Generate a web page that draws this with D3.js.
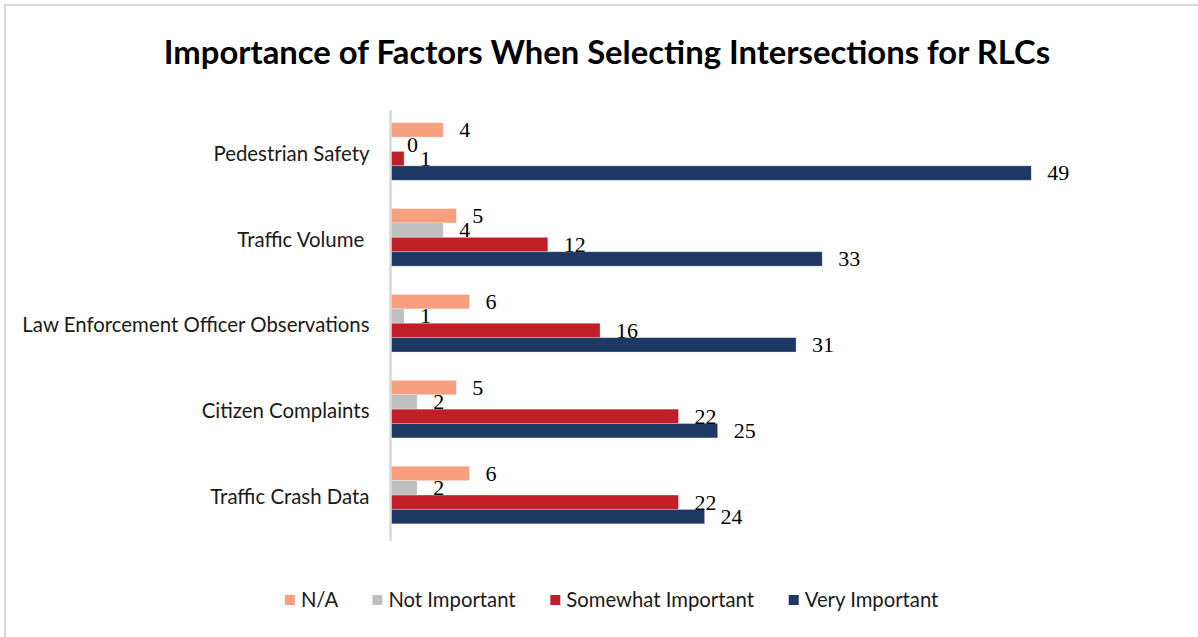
<!DOCTYPE html>
<html>
<head>
<meta charset="utf-8">
<script src="https://cdn.jsdelivr.net/npm/d3@7"></script>
<style>
  html, body { margin: 0; padding: 0; background: #fff; }
  svg { display: block; }
</style>
</head>
<body>
<svg id="chart" width="1198" height="637"></svg>
<script>
// ---- data ----
const categories = ["Pedestrian Safety", "Traffic Volume ", "Law Enforcement Officer Observations", "Citizen Complaints", "Traffic Crash Data"];
const seriesNames = ["N/A", "Not Important", "Somewhat Important", "Very Important"];
const naValues = [4, 5, 6, 5, 6];
const notImportantValues = [0, 4, 1, 2, 2];
const somewhatValues = [1, 12, 16, 22, 22];
const veryValues = [49, 33, 31, 25, 24];
const seriesColors = ["#F79F7F", "#BFBFBF", "#C11F27", "#1D3862"];
const titleText = "Importance of Factors When Selecting Intersections for RLCs";

const seriesValues = [naValues, notImportantValues, somewhatValues, veryValues];
const rows = [];
categories.forEach((c, i) => {
  seriesNames.forEach((s, j) => rows.push({ cat: c, series: s, value: seriesValues[j][i], color: seriesColors[j] }));
});

const svg = d3.select("#chart");
const W = 1198, H = 637;

// frame
svg.append("rect").attr("x", 5).attr("y", 5).attr("width", W + 10).attr("height", H + 10)
  .attr("fill", "#fff").attr("stroke", "#D9D9D9").attr("stroke-width", 2);

// title
svg.append("text").attr("x", 607).attr("y", 64).attr("text-anchor", "middle")
  .style("font-family", "Lato, 'Open Sans', sans-serif").style("font-weight", "700").style("font-size", "32.8px")
  .attr("fill", "#000").text(titleText);

// scales
const x = d3.scaleLinear().domain([0, 60]).range([391, 1175]);
const y = d3.scaleBand().domain(categories).range([108.5, 538]).paddingInner(0.33).paddingOuter(0.165);
const ys = d3.scaleBand().domain(seriesNames).range([0, y.bandwidth()]);

// bars
svg.append("g").selectAll("rect").data(rows).join("rect")
  .attr("x", x(0))
  .attr("y", d => y(d.cat) + ys(d.series))
  .attr("width", d => x(d.value) - x(0))
  .attr("height", ys.bandwidth())
  .attr("fill", d => d.color)
  .attr("stroke", "#ffffff").attr("stroke-opacity", 0.35).attr("stroke-width", 0.8);

// value labels
svg.append("g").selectAll("text").data(rows).join("text")
  .attr("x", d => x(d.value) + 16)
  .attr("y", d => y(d.cat) + ys(d.series) + ys.bandwidth() / 2)
  .attr("dy", "0.33em")
  .style("font-family", "'Liberation Serif', 'Times New Roman', serif").style("font-size", "22px")
  .attr("fill", "#000").text(d => d.value);

// axis (vertical category axis line, no ticks)
const yAxis = d3.axisLeft(y).tickSize(0).tickPadding(21);
const ag = svg.append("g").attr("transform", `translate(${x(0) - 0.5},0)`).call(yAxis);
ag.select(".domain").attr("stroke", "#D9D9D9").attr("stroke-width", 2.5).attr("d", `M0,110V541`);
ag.selectAll(".tick text")
  .style("font-family", "Lato, 'Open Sans', sans-serif").style("font-size", "20.4px")
  .attr("fill", "#1a1a1a").style("white-space", "pre").attr("dy", "0.45em");

// legend
const lg = svg.append("g");
const items = lg.selectAll("g").data(seriesNames).join("g");
items.append("rect").attr("width", 10).attr("height", 10).attr("y", -5).attr("fill", (d, i) => seriesColors[i]);
items.append("text").attr("x", 16).attr("dy", "0.35em")
  .style("font-family", "Lato, 'Open Sans', sans-serif").style("font-size", "20.3px")
  .attr("fill", "#1a1a1a").text(d => d);
let cx = 0; const pos = [];
const gap = 34;
items.each(function () {
  const w = this.getBBox().width;
  pos.push(cx); cx += w + gap;
});
const total = cx - gap;
const start = 612 - total / 2;
items.attr("transform", (d, i) => `translate(${start + pos[i]},600)`);
</script>
</body>
</html>
